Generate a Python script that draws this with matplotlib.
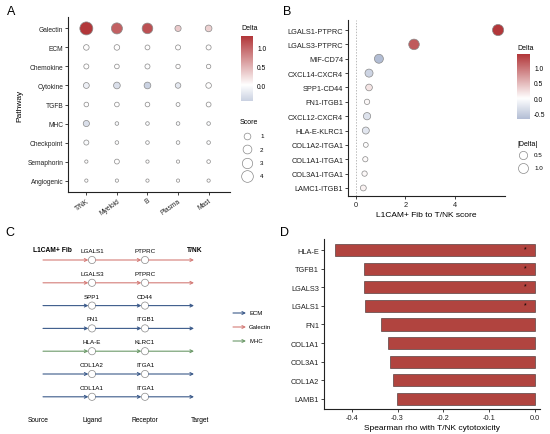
import numpy as np
import matplotlib
matplotlib.use('Agg')
from matplotlib import pyplot as plt
from matplotlib.colors import LinearSegmentedColormap, Normalize
from matplotlib.patches import Circle

plt.rcParams['font.family'] = ['Liberation Sans', 'DejaVu Sans']

# ---- data ----
# A: pathway dot plot
pathways = ['Galectin', 'ECM', 'Chemokine', 'Cytokine', 'TGFB', 'MHC',
            'Checkpoint', 'Semaphorin', 'Angiogenic']
cell_types = ['T/NK', 'Myeloid', 'B', 'Plasma', 'Mast']
score_a = [[5.1, 3.5, 3.2, 0.8, 1.0],
           [0.6, 0.6, 0.4, 0.45, 0.45],
           [0.45, 0.35, 0.45, 0.3, 0.3],
           [0.7, 1.0, 1.0, 0.6, 0.6],
           [0.35, 0.35, 0.35, 0.2, 0.4],
           [0.8, 0.15, 0.15, 0.15, 0.15],
           [0.45, 0.15, 0.15, 0.15, 0.15],
           [0.1, 0.4, 0.1, 0.1, 0.15],
           [0.1, 0.1, 0.1, 0.1, 0.1]]
delta_a = [[1.32, 1.05, 1.15, 0.35, 0.3],
           [0.02, 0.0, 0.0, 0.0, 0.0],
           [0.0, 0.0, -0.02, 0.0, 0.0],
           [-0.15, -0.3, -0.43, -0.22, 0.0],
           [0.0, 0.0, 0.0, -0.02, 0.0],
           [-0.3, -0.05, -0.05, -0.05, -0.05],
           [-0.05, -0.03, -0.03, -0.03, -0.03],
           [0.0, 0.0, 0.0, 0.0, 0.0],
           [0.0, 0.0, 0.0, 0.0, 0.0]]

# B: ligand-receptor pairs
pairs = ['LGALS1-PTPRC', 'LGALS3-PTPRC', 'MIF-CD74', 'CXCL14-CXCR4', 'SPP1-CD44',
         'FN1-ITGB1', 'CXCL12-CXCR4', 'HLA-E-KLRC1', 'COL1A2-ITGA1', 'COL1A1-ITGA1',
         'COL3A1-ITGA1', 'LAMC1-ITGB1']
pair_score = [5.75, 2.35, 0.93, 0.53, 0.53, 0.45, 0.45, 0.4, 0.4, 0.38, 0.35, 0.3]
pair_delta = [1.45, 1.2, -0.68, -0.45, 0.2, 0.05, -0.3, -0.25, 0.02, 0.04, 0.05, 0.1]

# C: communication paths
ligands = ['LGALS1', 'LGALS3', 'SPP1', 'FN1', 'HLA-E', 'COL1A2', 'COL1A1']
receptors = ['PTPRC', 'PTPRC', 'CD44', 'ITGB1', 'KLRC1', 'ITGA1', 'ITGA1']
path_type = ['Galectin', 'Galectin', 'ECM', 'ECM', 'MHC', 'ECM', 'ECM']
type_colors = {'ECM': '#3B5A8A', 'Galectin': '#D47C78', 'MHC': '#6D9A6A'}

# D: spearman correlation
genes = ['HLA-E', 'TGFB1', 'LGALS3', 'LGALS1', 'FN1', 'COL1A1', 'COL3A1', 'COL1A2', 'LAMB1']
rho = [-0.438, -0.3745, -0.373, -0.3716, -0.337, -0.32, -0.317, -0.31, -0.302]
signif = [True, True, True, True, False, False, False, False, False]

cmap = LinearSegmentedColormap.from_list('delta', ['#5D74A5', '#FFFFFF', '#B2373A'])
TICK = 4.8
TITLE = 6
W, H = 550, 435


def px_axes(fig, x0, y0, x1, y1):
    # axes from pixel box (top-left origin)
    return fig.add_axes([x0 / W, 1 - y1 / H, (x1 - x0) / W, (y1 - y0) / H])


def classic(ax, size=TICK):
    for s in ['top', 'right']:
        ax.spines[s].set_visible(False)
    for s in ['left', 'bottom']:
        ax.spines[s].set_linewidth(0.8)
        ax.spines[s].set_color('#222222')
    ax.tick_params(labelsize=size, length=2, width=0.6, pad=1.5, colors='#222222')


def gradient_bar(cax, lo, hi, ticks):
    m = max(abs(lo), abs(hi))
    vals = np.linspace(lo, hi, 256)[:, None]
    cax.imshow(vals, aspect='auto', cmap=cmap, norm=Normalize(-m, m),
               origin='lower', extent=[0, 1, lo, hi])
    cax.set_xticks([])
    cax.yaxis.tick_right()
    cax.set_yticks(ticks)
    cax.set_yticklabels(['%.1f' % t for t in ticks])
    cax.tick_params(labelsize=TICK, length=0, pad=3)
    for s in cax.spines.values():
        s.set_visible(False)


def diam_a(s):
    return (1.7 + 5 * np.sqrt(s)) * 0.72


def diam_b(d):
    return (4 + 6 * np.sqrt(d)) * 0.72


fig = plt.figure(figsize=(5.5, 4.35), dpi=100)

# ---- A ----
axa = px_axes(fig, 68, 18, 230, 193)
sa = np.array(score_a)
da = np.array(delta_a)
xx, yy = np.meshgrid(np.arange(len(cell_types)), np.arange(len(pathways)))
ma = np.abs(da).max()
axa.scatter(xx.ravel(), yy.ravel(), s=diam_a(sa.ravel()) ** 2, c=da.ravel(),
            cmap=cmap, vmin=-ma, vmax=ma, edgecolors='#8A8A8A', linewidths=0.5)
axa.set_xlim(-0.6, 4.7)
axa.set_ylim(8.6, -0.6)
axa.set_xticks(range(len(cell_types)))
axa.set_xticklabels(cell_types, rotation=35, ha='right', rotation_mode='anchor')
axa.set_yticks(range(len(pathways)))
axa.set_yticklabels(pathways)
axa.set_ylabel('Pathway', fontsize=TITLE, labelpad=3)
classic(axa)

caxa = px_axes(fig, 241, 37, 253, 102)
gradient_bar(caxa, da.min(), da.max(), [0.0, 0.5, 1.0])

# ---- B ----
axb = px_axes(fig, 348, 21, 505, 197)
pd_arr = np.array(pair_delta)
mb = np.abs(pd_arr).max()
axb.axvline(0, color='#BBBBBB', lw=0.7, ls=(0, (1.5, 1.5)), zorder=0)
axb.scatter(pair_score, range(len(pairs)), s=diam_b(np.abs(pd_arr)) ** 2, c=pd_arr,
            cmap=cmap, vmin=-mb, vmax=mb, edgecolors='#8A8A8A', linewidths=0.5, zorder=3)
axb.set_xlim(-0.32, 6.03)
axb.set_ylim(11.56, -0.7)
axb.set_xticks([0, 2, 4])
axb.set_yticks(range(len(pairs)))
axb.set_yticklabels(pairs)
axb.set_xlabel('L1CAM+ Fib to T/NK score', fontsize=TITLE, labelpad=2)
classic(axb, 5.3)

caxb = px_axes(fig, 517, 55, 530, 120)
gradient_bar(caxb, pd_arr.min(), pd_arr.max(), [-0.5, 0.0, 0.5, 1.0])

# ---- D ----
axd = px_axes(fig, 324, 240, 540, 410)
axd.barh(range(len(genes)), rho, height=0.65, color='#B1443F', edgecolor='#3A2A2A', linewidth=0.4)
for i, sg in enumerate(signif):
    if sg:
        axd.text(-0.021, i - 0.05, '*', fontsize=5, ha='center', va='center')
axd.set_xlim(-0.461, 0.012)
axd.set_ylim(8.55, -0.6)
axd.set_xticks([-0.4, -0.3, -0.2, -0.1, 0.0])
axd.set_xticklabels(['-0.4', '-0.3', '-0.2', '-0.1', '0.0'])
axd.set_yticks(range(len(genes)))
axd.set_yticklabels(genes)
axd.set_xlabel('Spearman rho with T/NK cytotoxicity', fontsize=TITLE, labelpad=2)
classic(axd, 5.3)

# ---- overlay: panel C, legends, letters ----
ov = fig.add_axes([0, 0, 1, 1], zorder=5)
ov.set_xlim(0, W)
ov.set_ylim(H, 0)
ov.axis('off')
ov.patch.set_alpha(0)

for x, y, t in [(7, 12, 'A'), (283, 12, 'B'), (5, 233, 'C'), (280, 233, 'D')]:
    ov.text(x, y, t, fontsize=9, ha='left', va='center')

# A legends
ov.text(241, 29, 'Delta', fontsize=5, ha='left', va='center')
ov.text(240, 123, 'Score', fontsize=5, ha='left', va='center')
for k, lv in enumerate([1, 2, 3, 4]):
    y = 137 + k * 13.3
    ov.scatter(247, y, s=diam_a(lv) ** 2, facecolors='white', edgecolors='#8A8A8A', linewidths=0.5)
    ov.text(260, y, str(lv), fontsize=4.5, ha='left', va='center')

# B legends
ov.text(517, 49, 'Delta', fontsize=5, ha='left', va='center')
ov.text(517, 145, '|Delta|', fontsize=5, ha='left', va='center')
for k, lv in enumerate([0.5, 1.0]):
    y = 156 + k * 12.5
    ov.scatter(523, y, s=diam_b(lv) ** 2, facecolors='white', edgecolors='#8A8A8A', linewidths=0.5)
    ov.text(534, y, '%.1f' % lv, fontsize=4.5, ha='left', va='center')

# C diagram
x_src, x_lig, x_rec, x_tgt = 43, 92, 145, 194
r = 3.6
for i, (lg, rc, pt) in enumerate(zip(ligands, receptors, path_type)):
    y = 261 + i * 22.8
    col = type_colors[pt]
    for a, b in [(x_src, x_lig - r), (x_lig + r, x_rec - r), (x_rec + r, x_tgt)]:
        ov.annotate('', xy=(b, y), xytext=(a, y),
                    arrowprops=dict(arrowstyle='->', color=col, lw=0.8,
                                    shrinkA=0, shrinkB=0, mutation_scale=5))
    for xc in (x_lig, x_rec):
        ov.add_patch(Circle((xc, y), r, facecolor='white', edgecolor='#8A8A8A', lw=0.5))
    ov.text(x_lig, y - 7, lg, fontsize=4.5, ha='center', va='bottom')
    ov.text(x_rec, y - 7, rc, fontsize=4.5, ha='center', va='bottom')

ov.text(52, 251, 'L1CAM+ Fib', fontsize=4.8, fontweight='bold', ha='center', va='center')
ov.text(195, 251, 'T/NK', fontsize=4.8, fontweight='bold', ha='center', va='center')
for xc, t in [(38, 'Source'), (92, 'Ligand'), (145, 'Receptor'), (200, 'Target')]:
    ov.text(xc, 421, t, fontsize=4.8, ha='center', va='center')

for k, name in enumerate(['ECM', 'Galectin', 'MHC']):
    y = 314 + k * 14
    ov.annotate('', xy=(246, y), xytext=(233, y),
                arrowprops=dict(arrowstyle='->', color=type_colors[name], lw=0.8,
                                shrinkA=0, shrinkB=0, mutation_scale=5))
    ov.text(249, y, name, fontsize=4.3, ha='left', va='center')

fig.savefig('out.png', dpi=100)
